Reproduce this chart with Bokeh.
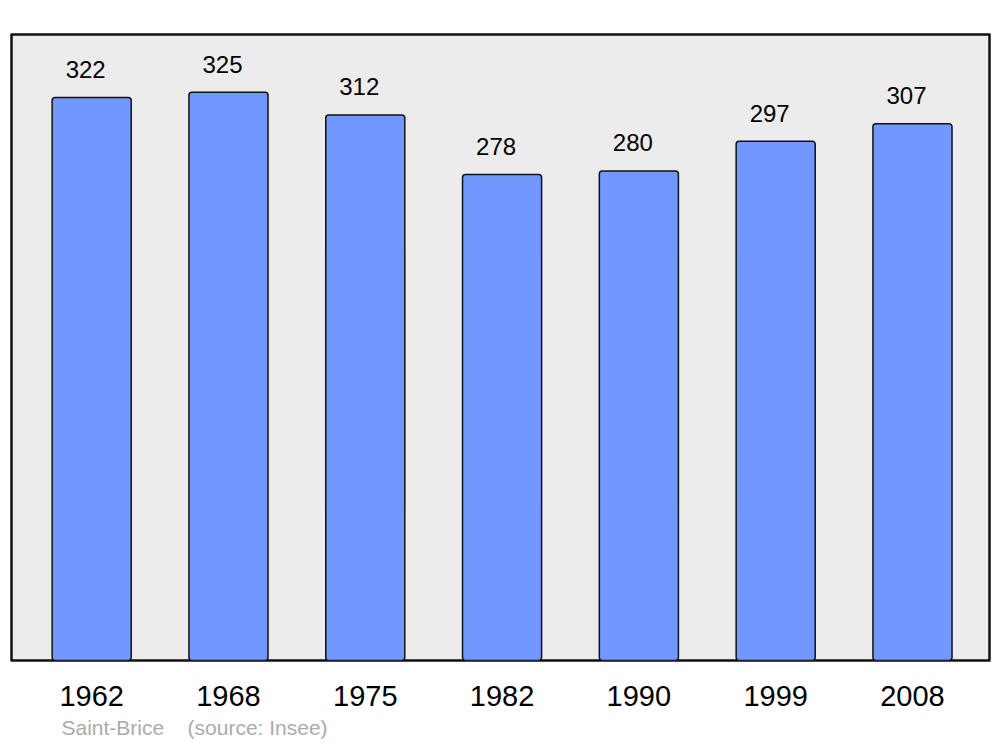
from bokeh.plotting import figure
from bokeh.models import ColumnDataSource, FixedTicker, Range1d, Title
from bokeh.embed import file_html
from bokeh.resources import INLINE
from bokeh.core.properties import value

years = ["1962", "1968", "1975", "1982", "1990", "1999", "2008"]
population = [322, 325, 312, 278, 280, 297, 307]
commune = "Saint-Brice"
source_note = "(source: Insee)"

idx = list(range(len(years)))
src = ColumnDataSource(dict(x=idx, top=population, label=[str(v) for v in population]))

p = figure(width=995, height=745, output_backend="svg", toolbar_location=None,
           x_range=Range1d(-0.586, 6.563), y_range=Range1d(0, 358),
           min_border_left=11, min_border_right=6, min_border_top=34, min_border_bottom=85)

p.background_fill_color = "#ececec"
p.border_fill_color = "white"
p.outline_line_color = "#111111"
p.outline_line_width = 2.5
p.outline_line_join = "round"
p.grid.visible = False

p.vbar(x="x", top="top", bottom=0, width=0.578, source=src,
       fill_color="#7298ff", line_color="#111111", line_width=1.5, border_radius=3)

p.text(x="x", y="top", text="label", source=src, x_offset=-6, y_offset=-28,
       text_align="center", text_baseline="alphabetic",
       text_font=value("Liberation Sans"), text_font_size="24px", text_color="black")

p.yaxis.visible = False
xa = p.xaxis[0]
xa.ticker = FixedTicker(ticks=idx)
xa.major_label_overrides = {i: y for i, y in zip(idx, years)}
xa.axis_line_color = None
xa.major_tick_line_color = None
xa.minor_tick_line_color = None
xa.major_tick_out = 0
xa.major_tick_in = 0
xa.major_label_standoff = 25
xa.major_label_text_font = "Liberation Sans"
xa.major_label_text_font_size = "29px"
xa.major_label_text_color = "black"

footer = Title(text=commune + "\u00a0\u00a0\u00a0\u00a0" + source_note, align="left", offset=50,
               text_font="Liberation Sans", text_font_size="21px", text_font_style="normal",
               text_color="#ababab", standoff=11)
p.add_layout(footer, "below")

open("out.html", "w").write(file_html(p, INLINE))
